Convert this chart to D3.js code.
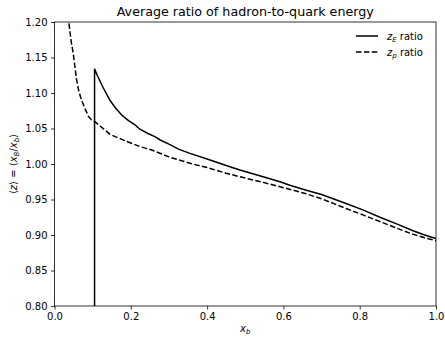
<!DOCTYPE html>
<html><head><meta charset="utf-8">
<script src="https://cdn.jsdelivr.net/npm/d3@7"></script>
<style>body{margin:0;background:#fff}svg{font-family:"DejaVu Sans",sans-serif}</style>
</head><body><svg id="c" width="445" height="339"></svg>
<script>
const zEx = [0.105, 0.105, 0.112, 0.128, 0.145, 0.160, 0.176, 0.194, 0.211, 0.224, 0.245, 0.263, 0.277, 0.30, 0.325, 0.355, 0.40, 0.45, 0.486, 0.54, 0.591, 0.617, 0.66, 0.70, 0.766, 0.81, 0.853, 0.90, 0.94, 0.97, 1.0];
const zEy = [0.80, 1.134, 1.125, 1.107, 1.090, 1.079, 1.069, 1.061, 1.055, 1.049, 1.043, 1.0385, 1.0338, 1.028, 1.021, 1.015, 1.007, 0.998, 0.9915, 0.983, 0.975, 0.970, 0.963, 0.957, 0.944, 0.935, 0.925, 0.915, 0.906, 0.900, 0.895];
const zPx = [0.038, 0.043, 0.049, 0.054, 0.058, 0.064, 0.071, 0.080, 0.089, 0.097, 0.106, 0.118, 0.132, 0.145, 0.159, 0.175, 0.193, 0.224, 0.255, 0.30, 0.355, 0.40, 0.45, 0.486, 0.54, 0.591, 0.609, 0.66, 0.70, 0.766, 0.81, 0.853, 0.90, 0.94, 0.97, 1.0];
const zPy = [1.198, 1.175, 1.156, 1.135, 1.118, 1.102, 1.090, 1.078, 1.067, 1.062, 1.0596, 1.054, 1.048, 1.042, 1.0385, 1.035, 1.031, 1.0245, 1.0197, 1.010, 1.001, 0.995, 0.987, 0.982, 0.975, 0.968, 0.9655, 0.958, 0.951, 0.937, 0.928, 0.919, 0.909, 0.901, 0.896, 0.892];
const xTicks = [0.0, 0.2, 0.4, 0.6, 0.8, 1.0];
const yTicks = [0.80, 0.85, 0.90, 0.95, 1.00, 1.05, 1.10, 1.15, 1.20];
const title = "Average ratio of hadron-to-quark energy";

const svg = d3.select("#c");
const L = 54.5, R = 436, T = 22, B = 306;
const x = d3.scaleLinear().domain([0, 1]).range([L, R]);
const y = d3.scaleLinear().domain([0.8, 1.2]).range([B, T]);

svg.append("defs").append("clipPath").attr("id", "clip")
  .append("rect").attr("x", L).attr("y", T).attr("width", R - L).attr("height", B - T);

const line = d3.line().x(d => x(d[0])).y(d => y(d[1]));
const g = svg.append("g").attr("clip-path", "url(#clip)");
g.append("path").datum(zEx.map((v, i) => [v, zEy[i]])).attr("d", line)
  .attr("fill", "none").attr("stroke", "#000").attr("stroke-width", 1.5);
g.append("path").datum(zPx.map((v, i) => [v, zPy[i]])).attr("d", line)
  .attr("fill", "none").attr("stroke", "#000").attr("stroke-width", 1.5)
  .attr("stroke-dasharray", "5.5,2.4");

const xa = svg.append("g").attr("transform", `translate(0,${B})`)
  .call(d3.axisBottom(x).tickValues(xTicks).tickFormat(d3.format(".1f")).tickSize(3.5).tickPadding(3.5));
const ya = svg.append("g").attr("transform", `translate(${L},0)`)
  .call(d3.axisLeft(y).tickValues(yTicks).tickFormat(d3.format(".2f")).tickSize(3.5).tickPadding(3.5));
[xa, ya].forEach(a => {
  a.select(".domain").remove();
  a.selectAll("text").attr("font-size", 10).attr("fill", "#000").attr("font-family", "DejaVu Sans");
  a.selectAll("line").attr("stroke", "#000").attr("stroke-width", 0.8);
});

svg.append("rect").attr("x", L).attr("y", T).attr("width", R - L).attr("height", B - T)
  .attr("fill", "none").attr("stroke", "#000").attr("stroke-width", 0.8);

svg.append("text").attr("x", (L + R) / 2).attr("y", 16).attr("text-anchor", "middle")
  .attr("font-size", 12.7).text(title);

const xl = svg.append("text").attr("x", (L + R) / 2).attr("y", 332).attr("text-anchor", "middle").attr("font-size", 10);
xl.append("tspan").attr("font-style", "italic").text("x");
xl.append("tspan").attr("font-style", "italic").attr("font-size", 7).attr("dy", 2).text("b");

const yl = svg.append("text").attr("transform", `translate(17,${(T + B) / 2}) rotate(-90)`)
  .attr("text-anchor", "middle").attr("font-size", 10);
yl.append("tspan").text("⟨");
yl.append("tspan").attr("font-style", "italic").text("z");
yl.append("tspan").text("⟩ = ⟨");
yl.append("tspan").attr("font-style", "italic").text("x");
yl.append("tspan").attr("font-style", "italic").attr("font-size", 7).attr("dy", 2).text("B");
yl.append("tspan").attr("dy", -2).text("/");
yl.append("tspan").attr("font-style", "italic").text("x");
yl.append("tspan").attr("font-style", "italic").attr("font-size", 7).attr("dy", 2).text("b");
yl.append("tspan").attr("dy", -2).text("⟩");

const legend = [["E", null], ["p", "5.5,2.4"]];
legend.forEach((l, i) => {
  const yy = 36 + i * 16;
  const ln = svg.append("line").attr("x1", 356).attr("x2", 378).attr("y1", yy).attr("y2", yy)
    .attr("stroke", "#000").attr("stroke-width", 1.5);
  if (l[1]) ln.attr("stroke-dasharray", l[1]);
  const t = svg.append("text").attr("x", 387).attr("y", yy + 3.5).attr("font-size", 10);
  t.append("tspan").attr("font-style", "italic").text("z");
  t.append("tspan").attr("font-style", "italic").attr("font-size", 7).attr("dy", 2).text(l[0]);
  t.append("tspan").attr("dy", -2).text(" ratio");
});
</script></body></html>
